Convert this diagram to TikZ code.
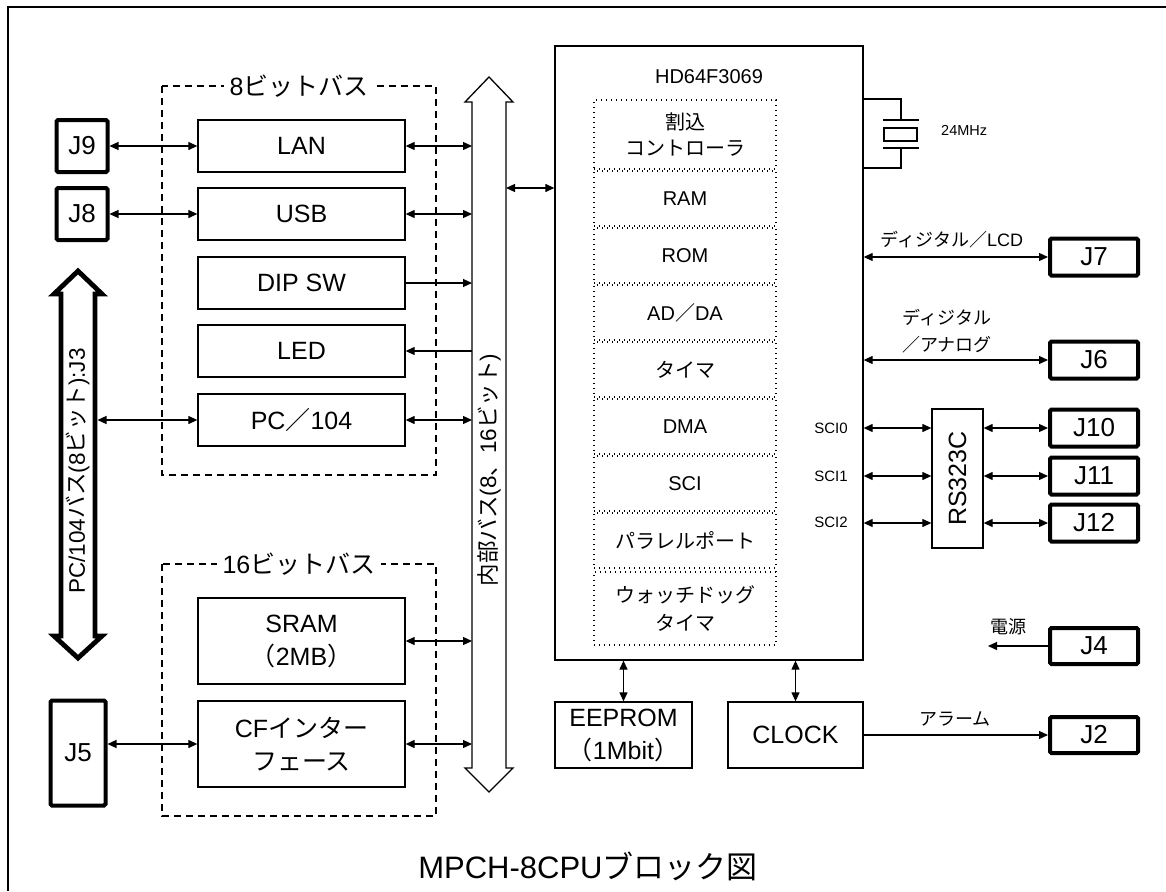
\documentclass[tikz,border=0pt]{standalone}
\usepackage{fontspec}
\setmainfont{Liberation Sans}
\newfontfamily\jp{Noto Sans CJK JP}
\usetikzlibrary{arrows.meta}
\newcommand\fBox{\fontsize{25}{33}\selectfont}
\newcommand\fGrp{\fontsize{25}{30}\selectfont}
\newcommand\fIn{\fontsize{20}{26}\selectfont}
\newcommand\fJ{\fontsize{26}{28}\selectfont}
\newcommand\fSm{\fontsize{15}{18}\selectfont}
\newcommand\fXt{\fontsize{14.5}{17}\selectfont}
\newcommand\fLab{\fontsize{18}{27}\selectfont}
\newcommand\fBus{\fontsize{22.5}{24}\selectfont}
\newcommand\fTitle{\fontsize{31}{36}\selectfont}
\begin{document}
\begin{tikzpicture}[x=1pt,y=-1pt,
  >={Triangle[length=9pt,width=8pt]},
  conn/.style={line width=1.2},
  box/.style={draw, line width=1.3, inner sep=0, align=center, font=\fBox},
  jbox/.style={draw, line width=4, rounded corners=1.5, inner sep=0, font=\fJ},
  inblk/.style={draw, line width=1.3, dash pattern=on 1.4pt off 3.6pt, inner sep=0, align=center, font=\fIn},
  grp/.style={draw, line width=1.1, dash pattern=on 7pt off 5pt},
  grplab/.style={fill=white, inner xsep=6, font=\fGrp},
  ghost/.style={inner sep=0, outer sep=0},
  lab/.style={font=\fLab, align=center, inner sep=1},
  small/.style={font=\fSm, inner sep=1}
]
\useasboundingbox (0,0) rectangle (1166,891);
% frame
\draw[line width=2.6] (8,891) -- (8,7) -- (1166,7);

% group boxes
\draw[grp] (162,86) rectangle (436,475);
\node[grplab] (g8) at (299,86) {8{\jp ビットバス}};
\draw[grp] (162,564) rectangle (436,816);
\node[grplab] (g16) at (299,564) {16{\jp ビットバス}};

% left boxes
\node[box, minimum width=207, minimum height=52] (lan) at (301.5,146) {LAN};
\node[box, minimum width=207, minimum height=52] (usb) at (301.5,214) {USB};
\node[box, minimum width=207, minimum height=52] (dip) at (301.5,283) {DIP SW};
\node[box, minimum width=207, minimum height=52] (led) at (301.5,351) {LED};
\node[box, minimum width=207, minimum height=52] (pc) at (301.5,420) {PC{\jp ／}104};
\node[box, minimum width=207, minimum height=86] (sram) at (301.5,641) {SRAM\\{\jp （}2MB{\jp ）}};
\node[box, minimum width=207, minimum height=86] (cf) at (301.5,744) {CF{\jp インター}\\{\jp フェース}};

% connectors J
\node[jbox, minimum width=51, minimum height=52] (j9) at (82,146) {J9};
\node[jbox, minimum width=51, minimum height=52] (j8) at (82,214) {J8};
\node[jbox, minimum width=55, minimum height=105] (j5) at (78,753) {J5};

% internal bus
\node[ghost, minimum width=34, minimum height=666] (bus) at (489,435) {};
\draw[line width=1.3, fill=white] (472,102) -- (465,102) -- (489,77) -- (513,102) -- (506,102)
  -- (506,768) -- (513,768) -- (489,792) -- (465,768) -- (472,768) -- cycle;
\node[rotate=90, font=\fBus, inner sep=0] (bustxt) at (489,470) {{\jp 内部バス}(8{\jp 、}16{\jp ビット})};

% PC/104 bus
\node[ghost, minimum width=39, minimum height=342] (pcbus) at (78,465) {};
\draw[line width=4.8, fill=white] (61,294) -- (54,294) -- (78,271) -- (102,294) -- (95,294)
  -- (95,636) -- (102,636) -- (78,658) -- (54,636) -- (61,636) -- cycle;
\node[rotate=90, font=\fBus, inner sep=0] (pctxt) at (78,471) {PC/104{\jp バス}(8{\jp ビット}):J3};

% left connectors
\draw[conn,<->] (j9.east) -- (lan.west);
\draw[conn,<->] (j8.east) -- (usb.west);
\draw[conn,<->] (lan.east) -- (lan.east -| bus.west);
\draw[conn,<->] (usb.east) -- (usb.east -| bus.west);
\draw[conn,->] (dip.east) -- (dip.east -| bus.west);
\draw[conn,->] (led.east -| bus.west) -- (led.east);
\draw[conn,<->] (pc.east) -- (pc.east -| bus.west);
\draw[conn,<->] (pc.west) -- (pc.west -| pcbus.east);
\draw[conn,<->] (sram.east) -- (sram.east -| bus.west);
\draw[conn,<->] (cf.east) -- (cf.east -| bus.west);
\draw[conn,<->] (j5.east |- cf.west) -- (cf.west);

% CPU
\node[draw, line width=1.3, minimum width=308, minimum height=614, inner sep=0] (cpu) at (709,353) {};
\node[font=\fIn] (cpuname) at (709,77) {HD64F3069};
\draw[conn,<->] (bus.east |- 0,188) coordinate (bc) -- (bc -| cpu.west);

\node[inblk, minimum width=182, minimum height=69] (b1) at (685,134.5) {{\jp 割込}\\{\jp コントローラ}};
\node[inblk, minimum width=182, minimum height=55] (b2) at (685,198.5) {RAM};
\node[inblk, minimum width=182, minimum height=55] (b3) at (685,255.5) {ROM};
\node[inblk, minimum width=182, minimum height=55] (b4) at (685,312.5) {AD{\jp ／}DA};
\node[inblk, minimum width=182, minimum height=55] (b5) at (685,369.5) {{\jp タイマ}};
\node[inblk, minimum width=182, minimum height=55] (b6) at (685,426.5) {DMA};
\node[inblk, minimum width=182, minimum height=55] (b7) at (685,483.5) {SCI};
\node[inblk, minimum width=182, minimum height=55] (b8) at (685,540.5) {{\jp パラレルポート}};
\node[inblk, minimum width=182, minimum height=73, font=\fontsize{20}{28}\selectfont] (b9) at (685,608.5) {{\jp ウォッチドッグ}\\{\jp タイマ}};

% crystal
\draw[conn] (cpu.east |- 0,99) -| (901,120);
\draw[line width=1.8] (883,120) -- (919,120);
\draw[line width=1.6] (884,128) rectangle (917,141);
\draw[line width=1.8] (883,148) -- (919,148);
\draw[conn] (901,148) |- (cpu.east |- 0,168);
\node[font=\fXt, inner sep=1, anchor=west] (xtal) at (940,130) {24MHz};

% right side connectors
\node[jbox, minimum width=88, minimum height=37] (j7) at (1094,257) {J7};
\node[jbox, minimum width=88, minimum height=37] (j6) at (1094,360) {J6};
\node[jbox, minimum width=88, minimum height=37] (j10) at (1094,428) {J10};
\node[jbox, minimum width=88, minimum height=37] (j11) at (1094,476) {J11};
\node[jbox, minimum width=88, minimum height=37] (j12) at (1094,523) {J12};
\node[jbox, minimum width=88, minimum height=36] (j4) at (1094,646) {J4};
\node[jbox, minimum width=88, minimum height=36] (j2) at (1094,735) {J2};

\draw[conn,<->] (j7.west -| cpu.east) -- (j7.west);
\node[lab] (l7) at (952,240) {{\jp ディジタル／}LCD};
\draw[conn,<->] (j6.west -| cpu.east) -- (j6.west);
\node[lab] (l6) at (947,331) {{\jp ディジタル}\\{\jp ／アナログ}};

\node[draw, line width=1.3, minimum width=51, minimum height=139, inner sep=0] (rs) at (957.5,478.5) {};
\node[rotate=90, font=\fBox, inner sep=0] (rstxt) at (rs.center) {RS323C};
\draw[conn,<->] (j10.west -| cpu.east) -- (j10.west -| rs.west);
\draw[conn,<->] (j11.west -| cpu.east) -- (j11.west -| rs.west);
\draw[conn,<->] (j12.west -| cpu.east) -- (j12.west -| rs.west);
\draw[conn,<->] (j10.west -| rs.east) -- (j10.west);
\draw[conn,<->] (j11.west -| rs.east) -- (j11.west);
\draw[conn,<->] (j12.west -| rs.east) -- (j12.west);
\node[small] (s0) at (831,428) {SCI0};
\node[small] (s1) at (831,476) {SCI1};
\node[small] (s2) at (831,522) {SCI2};

\coordinate (pwr) at (988,646);
\draw[conn,->] (j4.west) -- (pwr);
\node[lab] (l4) at (1008,627) {{\jp 電源}};

% bottom blocks
\node[box, minimum width=137, minimum height=66] (eep) at (623.5,735) {EEPROM\\{\jp （}1Mbit{\jp ）}};
\node[box, minimum width=135, minimum height=66] (clk) at (795.5,735) {CLOCK};
\draw[conn,<->] (eep.north |- cpu.south) -- (eep.north);
\draw[conn,<->] (clk.north |- cpu.south) -- (clk.north);
\draw[conn,->] (clk.east) -- (j2.west);
\node[lab] (l2) at (955,719) {{\jp アラーム}};

% title
\node[font=\fTitle] (title) at (588,866) {MPCH-8CPU{\jp ブロック図}};
\end{tikzpicture}
\end{document}
